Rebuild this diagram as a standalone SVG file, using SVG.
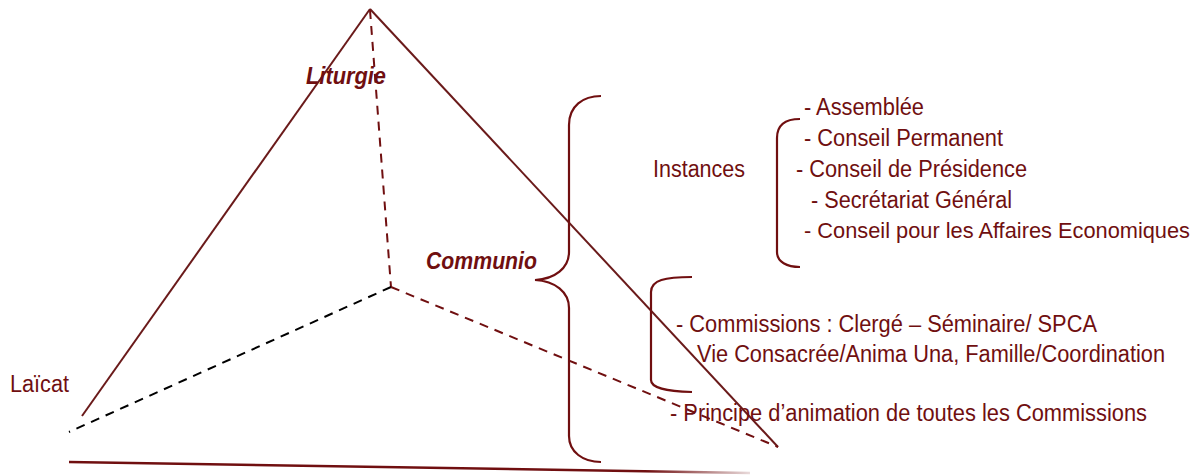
<svg xmlns="http://www.w3.org/2000/svg" width="1203" height="475" viewBox="0 0 1203 475">
<style>
.t{font-family:"Liberation Sans",Arial,sans-serif;font-size:23px;fill:#700f10}
.bi{font-weight:bold;font-style:italic;font-size:23px}
.solid{stroke:#6a1a1a;stroke-width:2;fill:none}
.dash{stroke:#700f10;stroke-width:2;stroke-dasharray:9,7;fill:none}
.dashk{stroke:#000;stroke-width:2;stroke-dasharray:9,7;fill:none}
.brace{stroke:#700f10;stroke-width:2.2;fill:none}
</style>
<defs>
<linearGradient id="fade" gradientUnits="userSpaceOnUse" x1="69" y1="0" x2="750" y2="0">
<stop offset="0" stop-color="#700f10"/>
<stop offset="0.85" stop-color="#700f10"/>
<stop offset="1" stop-color="#700f10" stop-opacity="0.15"/>
</linearGradient>
</defs>
<g id="connectors">
<line class="solid" x1="370" y1="9" x2="82" y2="416"/>
<line class="solid" x1="370" y1="9" x2="778" y2="447"/>
<line x1="69" y1="462" x2="750" y2="473" stroke="url(#fade)" stroke-width="2.5"/>
<line class="dash" x1="370" y1="10" x2="391" y2="287"/>
<line class="dashk" x1="391" y1="287" x2="69" y2="432"/>
<line class="dash" x1="391" y1="287" x2="778" y2="447"/>
</g>
<g id="braces">
<path class="brace" d="M601,96 C583,96 569,106 569,125 L569,252 C569,268 555,279 535,280 C555,281 569,292 569,308 L569,436 C569,452 583,462 601,462"/>
<path class="brace" d="M800,119 C787,119 777,124 777,138 L777,252 C777,262 787,267 800,267"/>
<path class="brace" d="M692,277 C665,277 651,280 651,292 L651,380 C651,388 665,391 692,392"/>
</g>
<g id="liturgie"><text class="t bi" x="306" y="84" textLength="80" lengthAdjust="spacingAndGlyphs">Liturgie</text></g>
<g id="communio"><text class="t bi" x="426" y="269" textLength="111" lengthAdjust="spacingAndGlyphs">Communio</text></g>
<g id="laicat"><text class="t" x="10" y="392" textLength="59" lengthAdjust="spacingAndGlyphs">Laïcat</text></g>
<g id="instances"><text class="t" x="653" y="177" textLength="92" lengthAdjust="spacingAndGlyphs">Instances</text></g>
<g id="instances-list">
<text class="t" x="804" y="115" textLength="120" lengthAdjust="spacingAndGlyphs">- Assemblée</text>
<text class="t" x="804" y="146" textLength="199" lengthAdjust="spacingAndGlyphs">- Conseil Permanent</text>
<text class="t" x="796" y="177" textLength="231" lengthAdjust="spacingAndGlyphs">- Conseil de Présidence</text>
<text class="t" x="811" y="208" textLength="201" lengthAdjust="spacingAndGlyphs">- Secrétariat Général</text>
<text class="t" x="804" y="238" textLength="386" lengthAdjust="spacingAndGlyphs" style="font-size:22px">- Conseil pour les Affaires Economiques</text>
</g>
<g id="commissions">
<text class="t" x="676" y="332" textLength="421" lengthAdjust="spacingAndGlyphs">- Commissions : Clergé – Séminaire/ SPCA</text>
<text class="t" x="697" y="362" textLength="468" lengthAdjust="spacingAndGlyphs">Vie Consacrée/Anima Una, Famille/Coordination</text>
</g>
<g id="principe"><text class="t" x="670" y="421" textLength="477" lengthAdjust="spacingAndGlyphs">- Principe d’animation de toutes les Commissions</text></g>
</svg>
